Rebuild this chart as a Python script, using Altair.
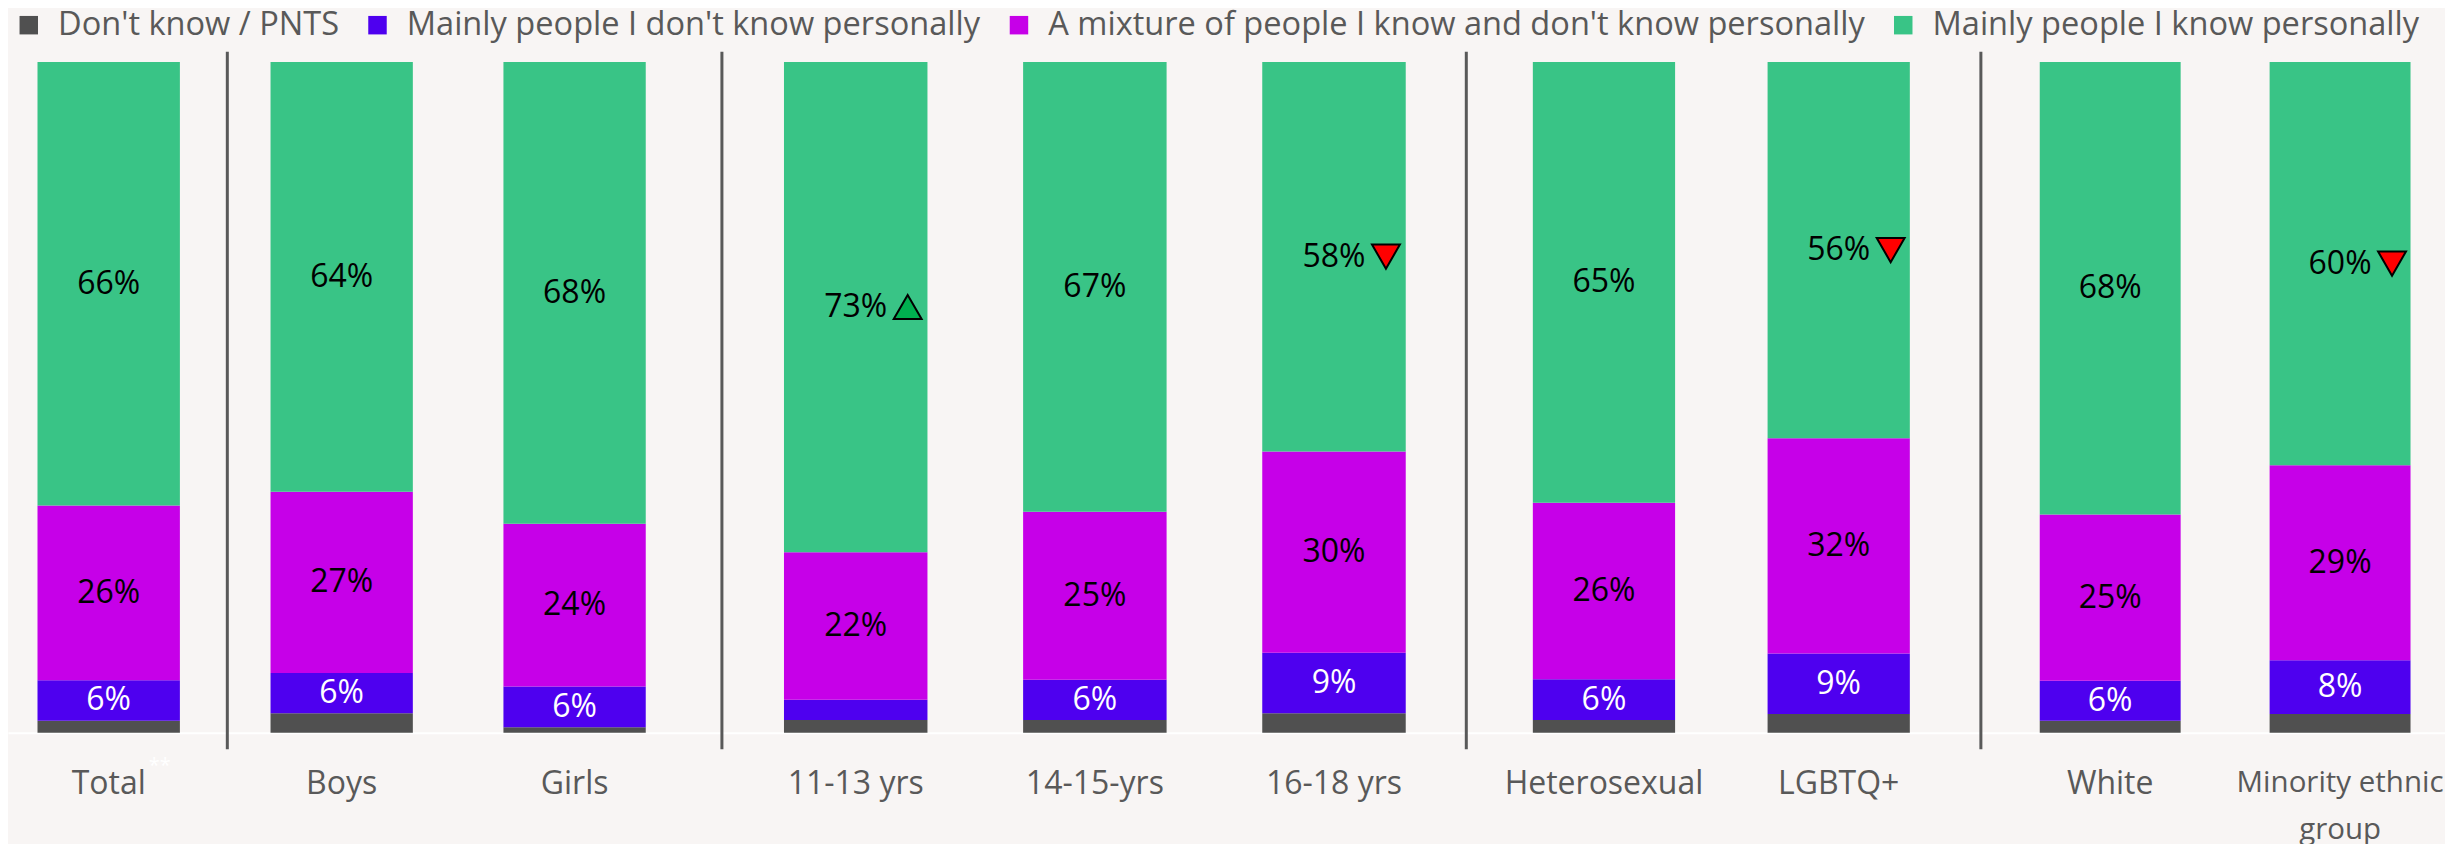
import altair as alt
import pandas as pd

CATEGORIES = ["Total", "Boys", "Girls", "11-13 yrs", "14-15-yrs", "16-18 yrs",
              "Heterosexual", "LGBTQ+", "White", "Minority ethnic group"]
GROUP_OF = [0, 1, 1, 2, 2, 2, 3, 3, 4, 4]
SERIES = ["Don't know / PNTS",
          "Mainly people I don't know personally",
          "A mixture of people I know and don't know personally",
          "Mainly people I know personally"]
COLORS = ["#505050", "#4E00EF", "#C600E8", "#39C486"]

DONT_KNOW = [1.8, 2.9, 0.8, 1.9, 1.9, 2.9, 1.9, 2.8, 1.8, 2.8]
NOT_KNOW = [6, 6, 6, 3, 6, 9, 6, 9, 6, 8]
MIXTURE = [26, 27, 24, 22, 25, 30, 26, 32, 25, 29]
KNOW = [66, 64, 68, 73, 67, 58, 65, 56, 68, 60]
SIGNIF = ["", "", "", "up", "", "down", "", "down", "", "down"]
FOOTNOTE_CAT = "Total"
FOOTNOTE_MARK = "**"

rows = []
for i, cat in enumerate(CATEGORIES):
    for k, vals in enumerate([DONT_KNOW, NOT_KNOW, MIXTURE, KNOW]):
        rows.append({"cat": cat, "group": GROUP_OF[i], "series": SERIES[k],
                     "order": k, "value": vals[i], "sig": SIGNIF[i]})
df = pd.DataFrame(rows)

# panel layout: width, paddingInner, paddingOuter, align, separator on left
PANELS = [
    (218.8, 0.0, 0.2677, 0.387, False),
    (494.4, 0.389, 0.255, 0.368, True),
    (744.8, 0.40, 0.256, 0.511, True),
    (514.5, 0.394, 0.292, 0.489, True),
    (464.5, 0.387, 0.203, 0.636, True),
]
HEIGHT = 698
FONT = "Open Sans"
GREY = "#595959"

label_expr = ("datum.value == 'Minority ethnic group' ? "
              "['Minority ethnic', 'group'] : datum.label")
label_size = {"condition": {"test": "datum.value == 'Minority ethnic group'",
                            "value": 29.5},
              "value": 32}


def panel(g, width, pi, po, align, sep):
    d = df[df["group"] == g]
    cats = [c for c, gg in zip(CATEGORIES, GROUP_OF) if gg == g]
    base = alt.Chart(d).transform_stack(
        stack="value", groupby=["cat"], as_=["y0", "y1"], offset="normalize",
        sort=[alt.SortField(field="order", order="ascending")]
    ).transform_calculate(ym="(datum.y0 + datum.y1) / 2",
                          label="datum.value + '%'")
    xaxis = alt.Axis(title=None, labelAngle=0, domain=True, domainColor="white",
                     domainWidth=2, offset=-16, ticks=False,
                     tickSize=0, labelPadding=35.5, labelFontSize=label_size,
                     labelColor=GREY, labelFont=FONT, labelExpr=label_expr,
                     labelLineHeight=47, labelLimit=1000)
    x = alt.X("cat:N", sort=cats,
              scale=alt.Scale(paddingInner=pi, paddingOuter=po, align=align),
              axis=xaxis)
    yscale = alt.Scale(domain=[-0.0238, 1.0158], nice=False, zero=False)
    if sep:
        yaxis = alt.Axis(title=None, labels=False, ticks=False, grid=False,
                         domain=True, domainColor=GREY, domainWidth=3)
    else:
        yaxis = None

    bars = base.mark_bar().encode(
        x=x,
        y=alt.Y("y0:Q", scale=yscale, axis=yaxis),
        y2="y1:Q",
        color=alt.Color("series:N", scale=alt.Scale(domain=SERIES, range=COLORS),
                        legend=alt.Legend(title=None, orient="none",
                                          legendX=4.5, legendY=-42.5,
                                          direction="horizontal",
                                          symbolType="square", symbolSize=342,
                                          symbolStrokeWidth=0,
                                          labelFontSize=32.6, labelFont=FONT,
                                          labelColor=GREY, labelOffset=13,
                                          columnPadding=22, labelLimit=2000,
                                          padding=0)),
    )
    texts = base.transform_filter("datum.order > 0 && datum.value >= 5").mark_text(
        fontSize=32, font=FONT, baseline="middle", align="center"
    ).encode(
        x=x,
        y=alt.Y("ym:Q", scale=yscale, axis=yaxis, stack=None),
        text="label:N",
        color=alt.condition("datum.order == 1", alt.value("white"), alt.value("black")),
    )
    layers = [bars, texts]
    if (d["sig"] != "").any():
        marks = base.transform_filter("datum.order == 3 && datum.sig != ''").mark_point(
            filled=True, size=780, stroke="black", strokeWidth=2, xOffset=52,
            opacity=1
        ).encode(
            x=x,
            y=alt.Y("ym:Q", scale=yscale, axis=yaxis, stack=None),
            shape=alt.Shape("sig:N", scale=alt.Scale(domain=["up", "down"],
                            range=["triangle-up", "triangle-down"]), legend=None),
            fill=alt.Fill("sig:N", scale=alt.Scale(domain=["up", "down"],
                          range=["#00B050", "#FF0000"]), legend=None),
        )
        layers.append(marks)
    if FOOTNOTE_CAT in cats:
        note = base.transform_filter(
            alt.datum.cat == FOOTNOTE_CAT
        ).transform_filter("datum.order == 3").mark_text(
            fontSize=20, font=FONT, color="white", align="center",
            baseline="middle", xOffset=51
        ).encode(
            x=x,
            y=alt.value(715),
            text=alt.value(FOOTNOTE_MARK),
        )
        layers.append(note)
    return alt.layer(*layers).properties(width=width, height=HEIGHT)


charts = [panel(g, *p) for g, p in enumerate(PANELS)]
chart = alt.hconcat(*charts, spacing=0, bounds="flush").configure(
    background="#F8F5F4", padding=0, font=FONT
).configure_view(stroke=None)

chart.save("out.html", embed_options={"renderer": "svg", "actions": False})
